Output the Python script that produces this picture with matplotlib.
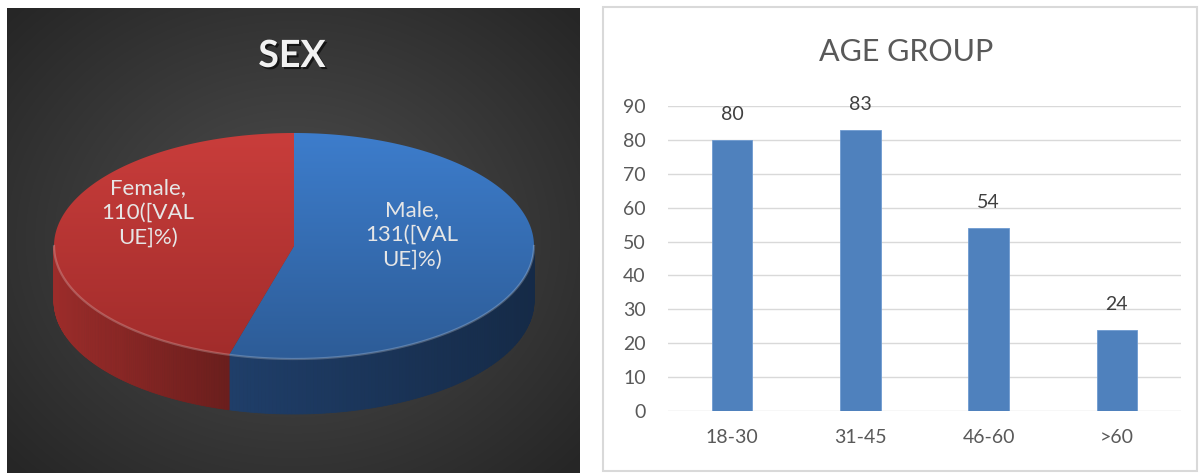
import numpy as np
import matplotlib.pyplot as plt
from matplotlib.patches import Polygon, Rectangle
from matplotlib.colors import to_rgb
import matplotlib.patheffects as pe

plt.rcParams['font.family'] = ['Lato', 'DejaVu Sans']

# data
sex_labels = ['Male', 'Female']
sex_counts = [131, 110]

age_groups = ['18-30', '31-45', '46-60', '>60']
age_counts = [80, 83, 54, 24]

# colours for each pie slice: top face (upper, lower) and side wall
top_cols = [('#3d7dcc', '#2d5c97'), ('#c93d3b', '#a12c2b')]
side_cols = ['#1f3e69', '#9c2c2a']
label_pos = [(412, 235), (148, 213)]

W, H = 1199, 473
fig = plt.figure(figsize=(W / 100, H / 100), dpi=100)
fig.patch.set_facecolor('white')

# full-figure canvas in pixel units for the pie panel and frames
bg = fig.add_axes([0, 0, 1, 1])
bg.axis('off')

# dark radial background of the pie panel
x0, x1, y0, y1 = 7, 580, 9, H
gx, gy = np.meshgrid(np.linspace(x0, x1, 300), np.linspace(y0, y1, 250))
r = np.hypot((gx - 293) / 390, (gy - 240) / 330)
v = 0.31 - 0.16 * np.clip(r, 0, 1)
bg.imshow(np.dstack([v, v, v]), extent=(x0, x1, y1, y0), origin='upper',
          aspect='auto', zorder=0, interpolation='bilinear')

# 3d pie
cx, cy, a, b, depth = 294, 246, 240, 113, 55


def ell(t):
    t = np.radians(t)
    return cx + a * np.cos(t), cy - b * np.sin(t)


fr = np.array(sex_counts) / sum(sex_counts)
bounds = 90 - 360 * np.concatenate([[0], np.cumsum(fr)])

# side walls (front half only)
for i in range(len(sex_counts)):
    hi, lo = bounds[i], bounds[i + 1]
    lo2, hi2 = max(lo, -180), min(hi, 0)
    if lo2 >= hi2:
        continue
    ts = np.linspace(lo2, hi2, 120)
    xs, ys = ell(ts)
    base = np.array(to_rgb(side_cols[i]))
    for k in range(len(ts) - 1):
        s = (xs[k] - xs.min()) / (xs.max() - xs.min())
        c = np.clip(base * (1 - 0.32 * s), 0, 1)
        quad = [(xs[k], ys[k]), (xs[k + 1], ys[k + 1]),
                (xs[k + 1], ys[k + 1] + depth), (xs[k], ys[k] + depth)]
        bg.add_patch(Polygon(quad, closed=True, facecolor=c, edgecolor=c,
                             lw=0.6, zorder=2))

# top faces with vertical gradient
for i in range(len(sex_counts)):
    ts = np.linspace(bounds[i], bounds[i + 1], 200)
    xs, ys = ell(ts)
    verts = [(cx, cy)] + list(zip(xs, ys))
    poly = Polygon(verts, closed=True, facecolor='none', edgecolor='none', zorder=3)
    bg.add_patch(poly)
    c_top, c_bot = np.array(to_rgb(top_cols[i][0])), np.array(to_rgb(top_cols[i][1]))
    g = np.linspace(0, 1, 200)[:, None]
    img = c_top[None, None, :] * (1 - g[..., None]) + c_bot[None, None, :] * g[..., None]
    img = np.repeat(img, 2, axis=1)
    im = bg.imshow(img, extent=(cx - a, cx + a, cy + b, cy - b), origin='upper',
                   aspect='auto', zorder=3, interpolation='bilinear')
    im.set_clip_path(poly)

# light rim on the front edge of the top face
rx, ry = ell(np.linspace(-180, 0, 200))
bg.plot(rx, ry, color='white', alpha=0.22, lw=1.6, zorder=4)

for i, lab in enumerate(sex_labels):
    bg.text(label_pos[i][0], label_pos[i][1],
            f'{lab},\n{sex_counts[i]}([VAL\nUE]%)',
            ha='center', va='center', multialignment='center',
            color='#e6e6e6', fontsize=16, linespacing=1.3, zorder=5)

bg.text(292, 56, 'SEX', ha='center', va='center', fontsize=27,
        fontweight='bold', color='#f2f2f2', zorder=5,
        path_effects=[pe.withSimplePatchShadow(offset=(1.5, -1.5),
                                               shadow_rgbFace='black', alpha=0.6)])

# frame of the bar panel
bg.add_patch(Rectangle((603, 7), 594, 464, facecolor='white',
                       edgecolor='#d9d9d9', lw=1.5, zorder=1))

bg.set_xlim(0, W)
bg.set_ylim(H, 0)

# bar chart
ax = fig.add_axes([668 / W, (H - 411) / H, 513 / W, 305 / H])
ax.set_facecolor('none')
xpos = np.arange(len(age_groups))
ax.bar(xpos, age_counts, width=0.316, color='#4f81bd', edgecolor='#6f9bd0',
       lw=0.6, zorder=3)
for xi, v in zip(xpos, age_counts):
    ax.annotate(str(v), (xi, v), xytext=(0, 18), textcoords='offset points',
                ha='center', va='center', fontsize=14, color='#404040')
ax.set_xlim(-0.5, 3.5)
ax.set_ylim(0, 90)
ax.set_yticks(range(0, 100, 10))
ax.set_xticks(xpos)
ax.set_xticklabels(age_groups)
ax.yaxis.grid(True, color='#d9d9d9', lw=1, zorder=0)
for sp in ax.spines.values():
    sp.set_visible(False)
ax.tick_params(axis='both', length=0, labelsize=14, labelcolor='#595959')
ax.tick_params(axis='y', pad=16)
ax.tick_params(axis='x', pad=13)

fig.text(906 / W, 1 - 52 / H, 'AGE GROUP', ha='center', va='center',
         fontsize=22, color='#595959')

fig.savefig('out.png', dpi=100)
